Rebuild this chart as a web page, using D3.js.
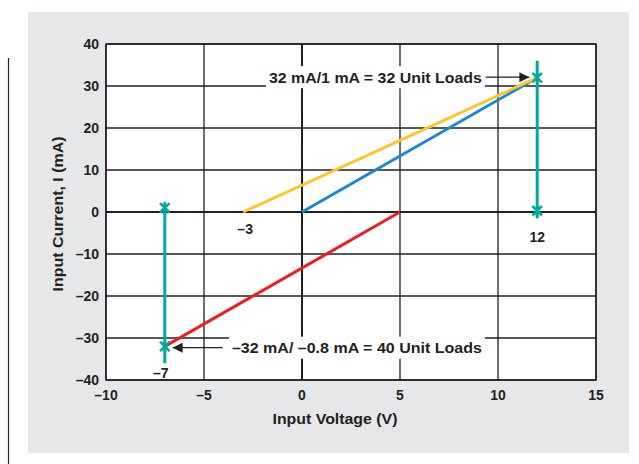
<!DOCTYPE html>
<html>
<head>
<meta charset="utf-8">
<script src="https://cdn.jsdelivr.net/npm/d3@7"></script>
<style>
  body { margin: 0; background: #fff; }
  svg { display: block; font-family: "Liberation Sans", Arial, sans-serif; font-weight: bold; }
</style>
</head>
<body>
<div class="chart"></div>
<script>
// data
const xTicks = [-10, -5, 0, 5, 10, 15];
const yTicks = [-40, -30, -20, -10, 0, 10, 20, 30, 40];
const blueLine = [{v: 0, i: 0}, {v: 12, i: 32}];
const yellowLine = [{v: -3, i: 0}, {v: 12, i: 32}];
const redLine = [{v: -7, i: -32}, {v: 5, i: 0}];
const tealRight = [{v: 12, i: 36}, {v: 12, i: -1.5}];
const tealLeft = [{v: -7, i: 1.5}, {v: -7, i: -36}];
const markers = [{v: -7, i: 1}, {v: -7, i: -32}, {v: 12, i: 32}, {v: 12, i: 0.3}];
const pointLabels = [{text: "\u20133", v: -2.9, i: -4}, {text: "\u20137", v: -7.2, i: -38.3}, {text: "12", v: 12, i: -5.9}];
const notes = [
  {text: "32 mA/1 mA = 32 Unit Loads", v: 9.18, i: 32.1, from: 9.37, to: 11.6, len: 213},
  {text: "\u201332 mA/ \u20130.8 mA = 40 Unit Loads", v: 9.18, i: -32.3, from: -4.05, to: -6.6, len: 250}
];

const width = 639, height = 464;
const svg = d3.select('.chart').append('svg').attr('width', width).attr('height', height);
const ink = '#231f20';

// gray panel + stray left rule
svg.append('rect').attr('x', 28).attr('y', 12).attr('width', 601).attr('height', 441).attr('fill', '#e6e7e8');
svg.append('line').attr('x1', 8.5).attr('x2', 8.5).attr('y1', 58).attr('y2', 464).attr('stroke', ink).attr('stroke-width', 1.2);

const x = d3.scaleLinear().domain([-10, 15]).range([106, 596]);
const y = d3.scaleLinear().domain([-40, 40]).range([380, 44]);

svg.append('rect').attr('x', 106).attr('y', 44).attr('width', 490).attr('height', 336).attr('fill', '#fff');

// grid
svg.append('g').selectAll('line').data(xTicks).enter().append('line')
  .attr('x1', d => x(d)).attr('x2', d => x(d)).attr('y1', y(40)).attr('y2', y(-40))
  .attr('stroke', ink).attr('stroke-width', d => d === 0 ? 2 : 1.3);
svg.append('g').selectAll('line').data(yTicks).enter().append('line')
  .attr('x1', x(-10)).attr('x2', x(15)).attr('y1', d => y(d)).attr('y2', d => y(d))
  .attr('stroke', ink).attr('stroke-width', d => d === 0 ? 2 : 1.3);
svg.append('rect').attr('x', 106).attr('y', 44).attr('width', 490).attr('height', 336)
  .attr('fill', 'none').attr('stroke', ink).attr('stroke-width', 1.5);

// tick labels
const fmt = d => d < 0 ? "\u2013" + Math.abs(d) : String(d);
svg.append('g').selectAll('text').data(yTicks).enter().append('text')
  .attr('x', 99).attr('y', d => y(d)).attr('dy', '0.36em').attr('text-anchor', 'end')
  .attr('font-size', 14).attr('fill', ink).text(fmt);
svg.append('g').selectAll('text').data(xTicks).enter().append('text')
  .attr('x', d => x(d)).attr('y', 395).attr('dy', '0.36em').attr('text-anchor', 'middle')
  .attr('font-size', 14).attr('fill', ink).text(fmt);

// axis titles
svg.append('text').attr('x', 335).attr('y', 419).attr('dy', '0.36em').attr('text-anchor', 'middle')
  .attr('font-size', 14.5).attr('fill', ink).attr('textLength', 125).attr('lengthAdjust', 'spacingAndGlyphs')
  .text('Input Voltage (V)');
svg.append('text').attr('transform', 'translate(58,214) rotate(-90)').attr('dy', '0.36em').attr('text-anchor', 'middle')
  .attr('font-size', 14.5).attr('fill', ink).attr('textLength', 155).attr('lengthAdjust', 'spacingAndGlyphs')
  .text('Input Current, I (mA)');

// annotation boxes (white backing over the grid)
const notesG = svg.append('g');
notes.forEach(n => {
  notesG.append('rect').attr('x', x(n.v) - n.len - 3).attr('y', y(n.i) - 11)
    .attr('width', n.len + 6).attr('height', 22).attr('fill', '#fff');
  notesG.append('text').attr('x', x(n.v)).attr('y', y(n.i)).attr('dy', '0.36em')
    .attr('text-anchor', 'end').attr('font-size', 15).attr('fill', ink)
    .attr('textLength', n.len).attr('lengthAdjust', 'spacingAndGlyphs').text(n.text);
});

// lines
const line = d3.line().x(d => x(d.v)).y(d => y(d.i));
svg.append('path').datum(blueLine).attr('d', line).attr('stroke', '#1b87cf').attr('stroke-width', 3).attr('fill', 'none');
svg.append('path').datum(yellowLine).attr('d', line).attr('stroke', '#fcc52a').attr('stroke-width', 3).attr('fill', 'none');
svg.append('path').datum(redLine).attr('d', line).attr('stroke', '#ed1c24').attr('stroke-width', 3).attr('fill', 'none');
[tealLeft, tealRight].forEach(t => {
  svg.append('path').datum(t).attr('d', line).attr('stroke', '#00a99d').attr('stroke-width', 3).attr('fill', 'none');
});

// markers: X with short vertical arms
const starX = {
  draw(ctx, size) {
    const r = Math.sqrt(size) / 2;
    ctx.moveTo(-r, -r); ctx.lineTo(r, r);
    ctx.moveTo(r, -r); ctx.lineTo(-r, r);
    ctx.moveTo(0, -r * 1.3); ctx.lineTo(0, r * 1.3);
  }
};
const sym = d3.symbol().type(starX).size(90);
svg.append('g').selectAll('path').data(markers).enter().append('path')
  .attr('transform', d => `translate(${x(d.v)},${y(d.i)})`)
  .attr('d', sym).attr('stroke', '#00a99d').attr('stroke-width', 2.6).attr('fill', 'none');

// arrows
const defs = svg.append('defs');
defs.append('marker').attr('id', 'ah').attr('viewBox', '0 0 10 10').attr('refX', 10).attr('refY', 5)
  .attr('markerWidth', 11).attr('markerHeight', 10).attr('markerUnits', 'userSpaceOnUse').attr('orient', 'auto')
  .append('path').attr('d', 'M0,0 L10,5 L0,10 Z').attr('fill', ink);
svg.append('g').selectAll('line').data(notes).enter().append('line')
  .attr('x1', d => x(d.from)).attr('x2', d => x(d.to)).attr('y1', d => y(d.i)).attr('y2', d => y(d.i))
  .attr('stroke', ink).attr('stroke-width', 1.3).attr('marker-end', 'url(#ah)');

// point labels
svg.append('g').selectAll('text').data(pointLabels).enter().append('text')
  .attr('x', d => x(d.v)).attr('y', d => y(d.i)).attr('dy', '0.36em').attr('text-anchor', 'middle')
  .attr('font-size', 14).attr('fill', ink).text(d => d.text);
</script>
</body>
</html>
